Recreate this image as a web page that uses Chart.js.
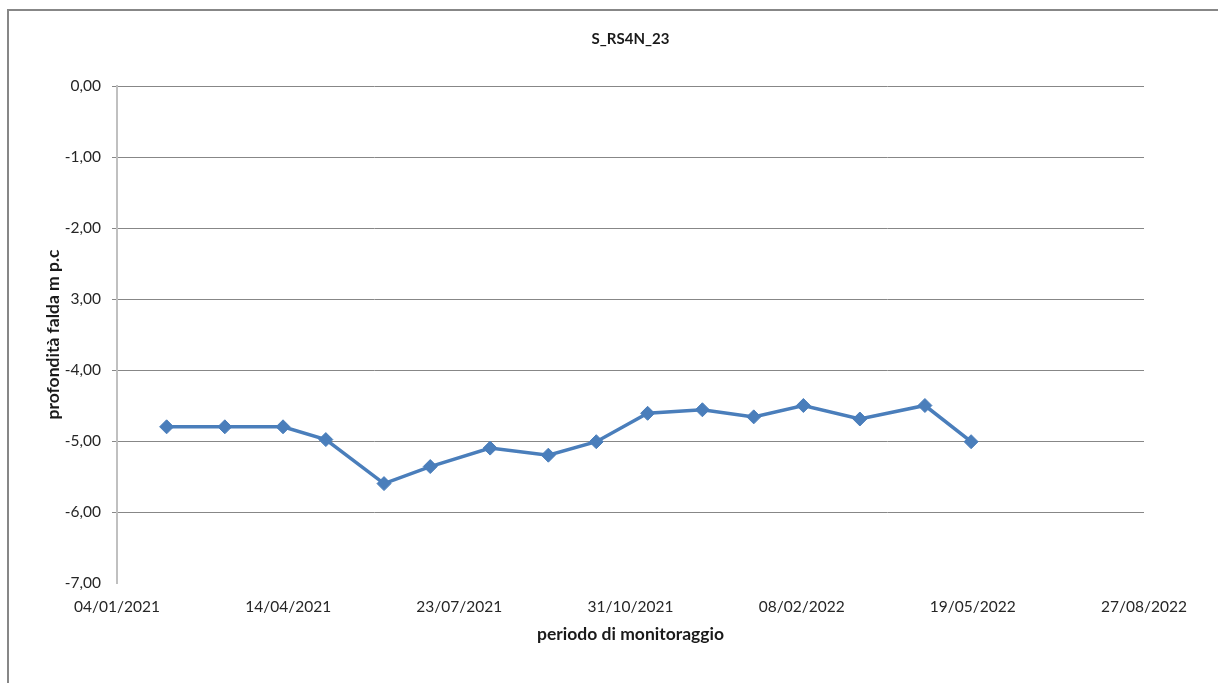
<!DOCTYPE html>
<html>
<head>
<meta charset="utf-8">
<script src="https://cdn.jsdelivr.net/npm/chart.js@4.4.1/dist/chart.umd.min.js"></script>
<style>
  html, body { margin: 0; padding: 0; background: #fff; overflow: hidden; }
  #wrap { position: relative; width: 1218px; height: 683px; overflow: hidden; }
  #frame { position: absolute; left: 7px; top: 9px; right: 0; bottom: 0; border-left: 2px solid #878787; border-top: 2px solid #878787; }
  canvas { position: absolute; left: 0; top: 0; }
</style>
</head>
<body>
<div id="wrap">
  <div id="frame"></div>
  <canvas id="chart" width="1218" height="683"></canvas>
</div>
<script>
// chart title and axis titles
var chartTitle = 'S_RS4N_23';
var xTitle = 'periodo di monitoraggio';
var yTitle = 'profondità falda m p.c';

// monitoring dates and water table depth (m below ground)
var dates = ['2021-02-02', '2021-03-08', '2021-04-11', '2021-05-06', '2021-06-09', '2021-07-06',
             '2021-08-10', '2021-09-13', '2021-10-11', '2021-11-10', '2021-12-12', '2022-01-11',
             '2022-02-09', '2022-03-14', '2022-04-21', '2022-05-18'];
var depth = [-4.80, -4.80, -4.80, -4.98, -5.60, -5.36, -5.10, -5.20, -5.01, -4.61, -4.56, -4.66,
             -4.50, -4.69, -4.50, -5.01];

// axis tick labels (as printed in the picture)
var xTickLabels = ['04/01/2021', '14/04/2021', '23/07/2021', '31/10/2021', '08/02/2022', '19/05/2022', '27/08/2022'];
var yTickLabels = ['0,00', '-1,00', '-2,00', '3,00', '-4,00', '-5,00', '-6,00', '-7,00'];

var origin = Date.UTC(2021, 0, 4);
function dayOf(s) {
    var p = s.split('-');
    return (Date.UTC(+p[0], +p[1] - 1, +p[2]) - origin) / 86400000;
}

var points = dates.map(function (d, i) { return { x: dayOf(d), y: depth[i] }; });

var font = "Lato, 'Open Sans', sans-serif";
var ctx = document.getElementById('chart').getContext('2d');
var chart = new Chart(ctx, {
    type: 'line',
    data: {
        datasets: [{
            label: chartTitle,
            data: points,
            borderColor: '#4a7ebb',
            backgroundColor: '#4a7ebb',
            borderWidth: 3.5,
            pointStyle: 'rectRot',
            pointRadius: 7,
            pointBorderWidth: 1,
            tension: 0
        }]
    },
    options: {
        responsive: false,
        animation: false,
        layout: { padding: { left: 0, right: 74, top: 0, bottom: 0 } },
        plugins: {
            legend: { display: false },
            tooltip: { enabled: false },
            title: {
                display: true,
                text: chartTitle,
                fullSize: false,
                color: '#1a1a1a',
                font: { family: font, size: 15, weight: 'bold' },
                padding: { top: 30, bottom: 38 }
            }
        },
        scales: {
            x: {
                type: 'linear',
                min: 0,
                max: 600,
                afterFit: function (scale) { scale.height = 100; },
                grid: { display: false, drawTicks: false },
                border: { display: false },
                ticks: {
                    stepSize: 100,
                    padding: 15,
                    color: '#262626',
                    font: { family: font, size: 15.5 },
                    maxRotation: 0,
                    callback: function (v, i) { return xTickLabels[i]; }
                },
                title: {
                    display: true,
                    text: xTitle,
                    color: '#1a1a1a',
                    font: { family: font, size: 17.5, weight: 'bold' },
                    padding: { top: 6, bottom: 38 }
                }
            },
            y: {
                min: -7,
                max: 0,
                afterFit: function (scale) { scale.width = 117; },
                grid: {
                    color: function (c) { return c.tick && c.tick.value === -7 ? 'rgba(0,0,0,0)' : '#878787'; },
                    lineWidth: 1,
                    tickLength: 5
                },
                border: { color: '#c0c0c0', width: 2 },
                ticks: {
                    stepSize: 1,
                    padding: 11,
                    color: '#262626',
                    font: { family: font, size: 15.5 },
                    callback: function (v) { return yTickLabels[Math.round(-v)]; }
                },
                title: {
                    display: true,
                    text: yTitle,
                    color: '#1a1a1a',
                    font: { family: font, size: 17.5, weight: 'bold' },
                    padding: { top: 43, bottom: 0 }
                }
            }
        }
    }
});
</script>
</body>
</html>
